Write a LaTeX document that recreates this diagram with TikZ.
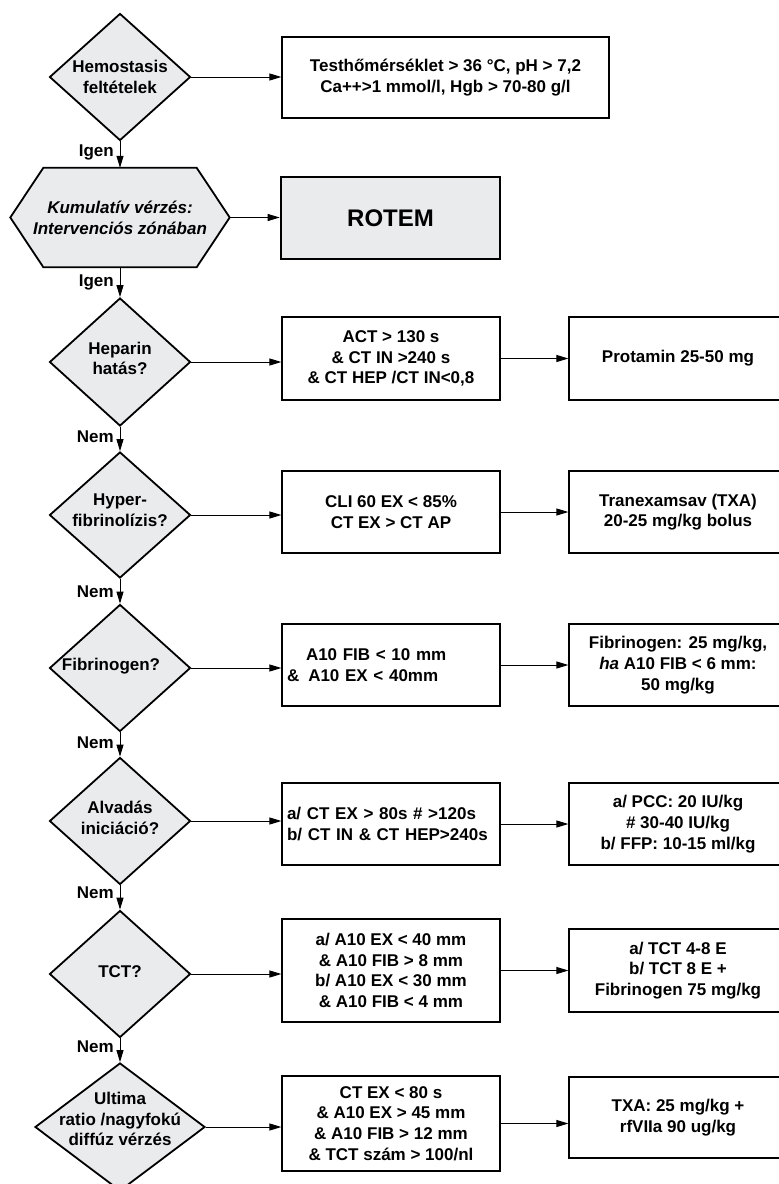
\documentclass[tikz,border=0pt]{standalone}
\usepackage{fontspec}
\setmainfont{Liberation Sans}
\usetikzlibrary{shapes.geometric,arrows.meta,backgrounds,calc}
\definecolor{boxgray}{RGB}{234,235,237}
\begin{document}
\begin{tikzpicture}[x=1pt,y=-1pt,
  every node/.style={font=\fontsize{17}{20.7}\selectfont\bfseries},
  dia/.style={diamond, draw, line width=1.8pt, fill=boxgray, minimum width=141pt, minimum height=127pt, inner sep=0pt},
  dtext/.style={align=center, inner sep=0pt},
  box/.style={rectangle, draw, line width=1.2pt, minimum width=218pt, minimum height=82pt, align=center, inner sep=2pt},
  lbox/.style={box, text width=208pt, inner sep=5pt, align=left},
  conn/.style={-{Triangle[length=12pt,width=7pt]}, line width=1pt},
  lab/.style={anchor=east, inner sep=0pt}
]
\useasboundingbox (0,0) rectangle (779,1184);
\clip (0,0) rectangle (779,1184);

% row 1
\node[dia, label={[dtext]center:Hemostasis\\feltételek}] (d1) at (120,77) {};
\node[box, minimum width=327pt, minimum height=81pt] (b1) at (445.5,77.5) {Testhőmérséklet > 36 °C, pH > 7,2\\Ca++>1 mmol/l, Hgb > 70-80 g/l};

% row 2
\node[rectangle, minimum width=219pt, minimum height=99pt, inner sep=0pt, align=center] (hex) at (120,217.5) {\textit{Kumulatív vérzés:}\\\textit{Intervenciós zónában}};
\begin{scope}[on background layer]
\draw[line width=1.8pt, fill=boxgray] (hex.west) -- ($(hex.north west)+(33,0)$) -- ($(hex.north east)+(-33,0)$) -- (hex.east) -- ($(hex.south east)+(-33,0)$) -- ($(hex.south west)+(33,0)$) -- cycle;
\end{scope}
\node[box, minimum width=219pt, fill=boxgray, line width=2.6pt, font=\fontsize{24}{28}\selectfont\bfseries] (rotem) at (390.5,218) {ROTEM};

% row 3
\node[dia, minimum height=128pt, label={[dtext, yshift=3.5pt]center:Heparin\\hatás?}] (d2) at (120,362) {};
\node[box, minimum height=83pt] (b2) at (391,358.5) {ACT > 130 s\\\& CT IN >240 s\\\& CT HEP /CT IN<0,8};
\node[box, minimum height=83pt] (r2) at (678,358.5) {Protamin 25-50 mg};

% row 4
\node[dia, minimum height=126pt, label={[dtext, yshift=5pt]center:Hyper-\\fibrinolízis?}] (d3) at (120,515) {};
\node[box] (b3) at (391,512) {CLI 60 EX < 85\%\\CT EX > CT AP};
\node[box] (r3) at (678,512) {Tranexamsav (TXA)\\20-25 mg/kg bolus};

% row 5
\node[dia, label={[dtext, xshift=-9pt, yshift=2pt]center:Fibrinogen?}] (d4) at (120,668) {};
\node[lbox] (b4) at (391,665) {\hspace*{19pt}A10 FIB < 10 mm\\\&\hspace{9pt}A10 EX < 40mm};
\node[box] (r4) at (678,665) {Fibrinogen: 25 mg/kg,\\\textit{ha} A10 FIB < 6 mm:\\50 mg/kg};

% row 6
\node[dia, label={[dtext, yshift=3.5pt]center:Alvadás\\iniciáció?}] (d5) at (120,821) {};
\node[lbox] (b5) at (391,824) {a/ CT EX > 80s \# >120s\\b/ CT IN \& CT HEP>240s};
\node[box] (r5) at (678,824) {a/ PCC: 20 IU/kg\\\# 30-40 IU/kg\\b/ FFP: 10-15 ml/kg};

% row 7
\node[dia, label={[dtext, yshift=2pt]center:TCT?}] (d6) at (120,974) {};
\node[box, minimum height=103pt] (b6) at (391,970.5) {a/ A10 EX < 40 mm\\\& A10 FIB > 8 mm\\b/ A10 EX < 30 mm\\\& A10 FIB < 4 mm};
\node[box, minimum height=83pt] (r6) at (678,970.5) {a/ TCT 4-8 E\\b/ TCT 8 E +\\Fibrinogen 75 mg/kg};

% row 8
\node[dia, minimum width=170pt, minimum height=128pt, label={[dtext, yshift=8pt]center:Ultima\\ratio /nagyfokú\\diffúz vérzés}] (d7) at (120,1127) {};
\node[box, minimum height=95pt] (b7) at (391,1123.5) {CT EX < 80 s\\\& A10 EX > 45 mm\\\& A10 FIB > 12 mm\\\& TCT szám > 100/nl};
\node[box, minimum height=81pt] (r7) at (678,1117.5) {TXA: 25 mg/kg +\\rfVIIa 90 ug/kg};

% horizontal connectors
\draw[conn] (d1.east) -- (d1.east -| b1.west);
\draw[conn] (hex.east) -- (hex.east -| rotem.west);
\draw[conn] (d2.east) -- (d2.east -| b2.west);
\draw[conn] (d3.east) -- (d3.east -| b3.west);
\draw[conn] (d4.east) -- (d4.east -| b4.west);
\draw[conn] (d5.east) -- (d5.east -| b5.west);
\draw[conn] (d6.east) -- (d6.east -| b6.west);
\draw[conn] (d7.east) -- (d7.east -| b7.west);
\draw[conn] (b2.east) -- (b2.east -| r2.west);
\draw[conn] (b3.east) -- (b3.east -| r3.west);
\draw[conn] (b4.east) -- (b4.east -| r4.west);
\draw[conn] (b5.east) -- (b5.east -| r5.west);
\draw[conn] (b6.east) -- (b6.east -| r6.west);
\draw[conn] (b7.east) -- (b7.east -| r7.west);

% vertical connectors
\draw[conn] (d1.south) -- (hex.north);
\draw[conn] (hex.south) -- (d2.north);
\draw[conn] (d2.south) -- (d3.north);
\draw[conn] (d3.south) -- (d4.north);
\draw[conn] (d4.south) -- (d5.north);
\draw[conn] (d5.south) -- (d6.north);
\draw[conn] (d6.south) -- (d7.north);

% labels
\node[lab] (y1) at (114,152) {Igen};
\node[lab] (y2) at (114,282) {Igen};
\node[lab] (n1) at (114,437) {Nem};
\node[lab] (n2) at (114,592) {Nem};
\node[lab] (n3) at (114,743) {Nem};
\node[lab] (n4) at (114,893) {Nem};
\node[lab] (n5) at (114,1047) {Nem};
\end{tikzpicture}
\end{document}
